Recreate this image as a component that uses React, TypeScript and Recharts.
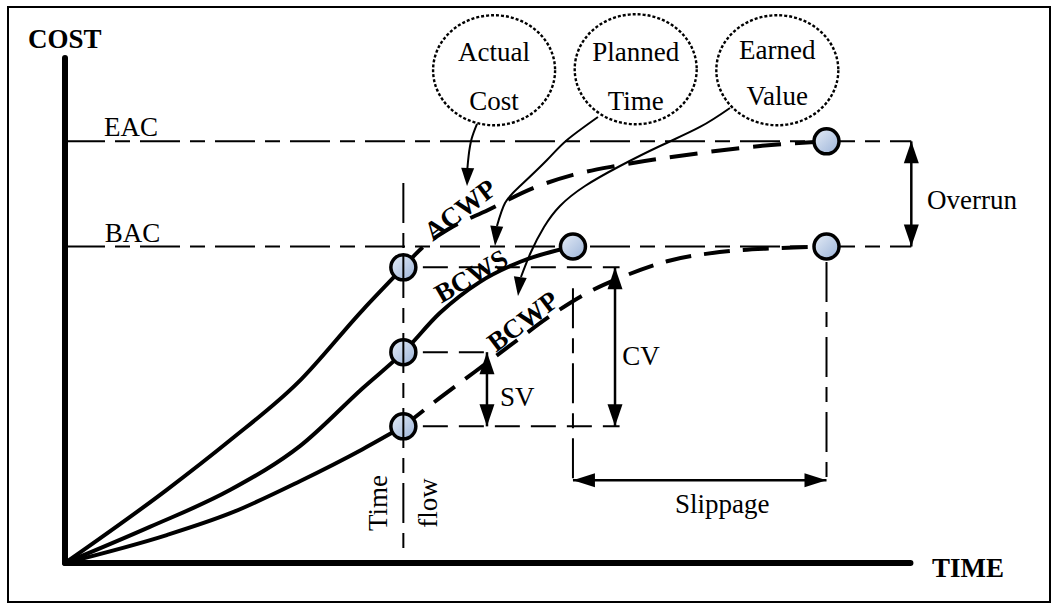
import React from 'react';
import { ComposedChart, Line, XAxis, YAxis, ReferenceLine, ReferenceDot } from 'recharts';

// ---- chart frame (data units: time 0..100 along the TIME axis, cost 0..100 along the COST axis)
const X_DOMAIN: [number, number] = [-7.665, 116.863];
const Y_DOMAIN: [number, number] = [-8.858, 110.827];

// ---- key levels / times
const EAC = 83.0;
const BAC = 62.3;
const STATUS_TIME = 39.9;
const PLANNED_FINISH = 59.9;
const FORECAST_FINISH = 89.8;
const TIME_AXIS_END = 99.7;
const COST_AXIS_END = 99.4;
const ACWP_NOW = 58.2;
const BCWS_NOW = 41.5;
const BCWP_NOW = 26.9;
const OVERRUN_T = 99.8;
const SV_T = 49.76;
const CV_T = 64.86;
const SLIP_Y = 16.3;

// ---- curves
const acwpActual = [
  { x: 0, y: 0 }, { x: 12.0, y: 14.4 }, { x: 19.5, y: 24.2 }, { x: 27.4, y: 35.4 },
  { x: 35.1, y: 49.8 }, { x: 39.9, y: 58.2 },
];
const acwpForecast = [
  { x: 39.9, y: 58.2 }, { x: 42.2, y: 62.2 }, { x: 45.2, y: 65.7 }, { x: 49.9, y: 69.5 },
  { x: 55.2, y: 73.8 }, { x: 59.9, y: 76.4 }, { x: 65.4, y: 78.3 }, { x: 74.9, y: 80.7 },
  { x: 82.0, y: 82.1 }, { x: 89.8, y: 83.0 },
];
const bcws = [
  { x: 0, y: 0 }, { x: 10.0, y: 7.1 }, { x: 19.5, y: 14.4 }, { x: 27.7, y: 23.0 },
  { x: 35.1, y: 34.4 }, { x: 39.9, y: 41.5 }, { x: 44.2, y: 49.2 }, { x: 48.9, y: 55.3 },
  { x: 53.7, y: 59.3 }, { x: 59.9, y: 62.3 },
];
const bcwpActual = [
  { x: 0, y: 0 }, { x: 12.0, y: 5.5 }, { x: 19.5, y: 9.8 }, { x: 27.7, y: 16.1 },
  { x: 35.1, y: 22.4 }, { x: 39.9, y: 26.9 },
];
const bcwpForecast = [
  { x: 39.9, y: 26.9 }, { x: 44.2, y: 32.5 }, { x: 48.3, y: 37.6 }, { x: 53.2, y: 43.7 },
  { x: 57.2, y: 48.6 }, { x: 61.4, y: 53.0 }, { x: 65.7, y: 56.3 }, { x: 71.0, y: 59.4 },
  { x: 77.2, y: 61.2 }, { x: 84.3, y: 62.0 }, { x: 89.8, y: 62.3 },
];

// ---- leader lines from the bubbles
const actualLeader = [
  { x: 48.58, y: 86.42 }, { x: 47.95, y: 83.5 }, { x: 47.6, y: 80.2 }, { x: 47.45, y: 77.6 },
];
const plannedLeader = [
  { x: 62.85, y: 87.8 }, { x: 59.2, y: 83.27 }, { x: 56.84, y: 79.33 }, { x: 53.66, y: 74.21 },
  { x: 51.89, y: 70.87 }, { x: 50.94, y: 66.34 },
];
const earnedLeader = [
  { x: 78.42, y: 89.57 }, { x: 74.88, y: 85.83 }, { x: 70.17, y: 82.09 }, { x: 65.45, y: 78.15 },
  { x: 61.32, y: 74.21 }, { x: 58.37, y: 70.28 }, { x: 56.49, y: 66.14 }, { x: 54.95, y: 61.22 },
  { x: 53.77, y: 56.3 },
];

// ---- milestones (circles); the ones on the status date are crossed by the time-flow line
const milestones = [
  { x: STATUS_TIME, y: ACWP_NOW, onStatus: true },
  { x: STATUS_TIME, y: BCWS_NOW, onStatus: true },
  { x: STATUS_TIME, y: BCWP_NOW, onStatus: true },
  { x: PLANNED_FINISH, y: BAC, onStatus: false },
  { x: FORECAST_FINISH, y: EAC, onStatus: false },
  { x: FORECAST_FINISH, y: BAC, onStatus: false },
];

// ---- bubbles
const bubbles = [
  { lines: ['Actual', 'Cost'], x: 50.6, y: 97.0, l1: 100.5, l2: 90.9 },
  { lines: ['Planned', 'Time'], x: 67.3, y: 97.2, l1: 100.5, l2: 90.9 },
  { lines: ['Earned', 'Value'], x: 84.0, y: 97.0, l1: 101.0, l2: 91.9 },
];

// ---- text labels
const labels = [
  { t: 'COST', x: -4.36, y: 103.15, anchor: 'start', bold: true, rot: 0 },
  { t: 'TIME', x: 102.24, y: -0.89, anchor: 'start', bold: true, rot: 0 },
  { t: 'EAC', x: 4.6, y: 85.9, anchor: 'start', bold: false, rot: 0 },
  { t: 'BAC', x: 4.7, y: 64.96, anchor: 'start', bold: false, rot: 0 },
  { t: 'ACWP', x: 46.6, y: 69.5, anchor: 'middle', bold: true, rot: -37 },
  { t: 'BCWS', x: 47.9, y: 56.5, anchor: 'middle', bold: true, rot: -30 },
  { t: 'BCWP', x: 54.0, y: 47.6, anchor: 'middle', bold: true, rot: -37 },
  { t: 'SV', x: 51.3, y: 32.7, anchor: 'start', bold: false, rot: 0 },
  { t: 'CV', x: 65.7, y: 40.7, anchor: 'start', bold: false, rot: 0 },
  { t: 'Slippage', x: 77.5, y: 11.6, anchor: 'middle', bold: false, rot: 0 },
  { t: 'Overrun', x: 101.65, y: 71.5, anchor: 'start', bold: false, rot: 0 },
  { t: 'Time', x: 36.9, y: 11.8, anchor: 'middle', bold: false, rot: -90 },
  { t: 'flow', x: 42.8, y: 11.8, anchor: 'middle', bold: false, rot: -90 },
];

const FONT = "'Liberation Serif', 'Times New Roman', Times, serif";

const textShape = (t: string, anchor: string, bold: boolean, rot: number) => (p: any) => (
  <text
    x={p.cx}
    y={p.cy}
    textAnchor={anchor}
    dominantBaseline="central"
    fontFamily={FONT}
    fontSize={27}
    fontWeight={bold ? 700 : 400}
    fill="#000"
    transform={rot ? `rotate(${rot} ${p.cx} ${p.cy})` : undefined}
  >
    {t}
  </text>
);

const arrowHead = (angle: number, len = 21, half = 7) => (p: any) => {
  const { cx, cy } = p;
  const a = (angle * Math.PI) / 180;
  const bx = cx - len * Math.cos(a);
  const by = cy - len * Math.sin(a);
  const nx = -Math.sin(a) * half;
  const ny = Math.cos(a) * half;
  return <polygon points={`${cx},${cy} ${bx + nx},${by + ny} ${bx - nx},${by - ny}`} fill="#000" />;
};

const milestoneShape = (crossed: boolean) => (p: any) => (
  <g>
    <defs>
      <linearGradient id="msGrad" x1="0" y1="0" x2="1" y2="1">
        <stop offset="0" stopColor="#e6edf7" />
        <stop offset="1" stopColor="#9bb3d8" />
      </linearGradient>
    </defs>
    <circle cx={p.cx} cy={p.cy} r={12.5} fill="url(#msGrad)" stroke="#000" strokeWidth={3.5} />
    {crossed && <line x1={p.cx} y1={p.cy - 12} x2={p.cx} y2={p.cy + 12} stroke="#000" strokeWidth={2} />}
  </g>
);

const ellipseShape = (p: any) => (
  <ellipse cx={p.cx} cy={p.cy} rx={61} ry={55} fill="none" stroke="#000" strokeWidth={2.4} strokeDasharray="3 2" />
);

const LONG_SHORT = '40 10 15 10';
const SHORT_DASH = '25 11';

export default function App() {
  const seg = (x1: number, y1: number, x2: number, y2: number) => [{ x: x1, y: y1 }, { x: x2, y: y2 }] as any;
  return (
    <div style={{ position: 'absolute', left: 0, top: 0, width: 1056, height: 608, background: '#fff' }}>
      <div
        style={{
          position: 'absolute', left: 7, top: 6, width: 1044, height: 597,
          border: '2px solid #000', boxSizing: 'border-box',
        }}
      />
      <div style={{ position: 'absolute', left: 0, top: 0 }}>
        <ComposedChart width={1056} height={608} margin={{ top: 0, right: 0, bottom: 0, left: 0 }}>
          <XAxis type="number" dataKey="x" domain={X_DOMAIN} allowDataOverflow hide />
          <YAxis type="number" dataKey="y" domain={Y_DOMAIN} allowDataOverflow hide />

          {/* guide lines */}
          <ReferenceLine segment={seg(0, EAC, OVERRUN_T, EAC)} stroke="#000" strokeWidth={2} strokeDasharray={LONG_SHORT} />
          <ReferenceLine segment={seg(0, BAC, OVERRUN_T, BAC)} stroke="#000" strokeWidth={2} strokeDasharray={LONG_SHORT} />
          <ReferenceLine segment={seg(42.2, ACWP_NOW, 65.4, ACWP_NOW)} stroke="#000" strokeWidth={2} strokeDasharray={SHORT_DASH} />
          <ReferenceLine segment={seg(42.2, BCWS_NOW, 50.2, BCWS_NOW)} stroke="#000" strokeWidth={2} strokeDasharray={SHORT_DASH} />
          <ReferenceLine segment={seg(42.2, BCWP_NOW, 65.4, BCWP_NOW)} stroke="#000" strokeWidth={2} strokeDasharray={SHORT_DASH} />
          <ReferenceLine segment={seg(PLANNED_FINISH, 54.1, PLANNED_FINISH, SLIP_Y)} stroke="#000" strokeWidth={2} strokeDasharray={LONG_SHORT} />
          <ReferenceLine segment={seg(FORECAST_FINISH, 59.25, FORECAST_FINISH, SLIP_Y)} stroke="#000" strokeWidth={2} strokeDasharray={LONG_SHORT} />
          <ReferenceLine segment={seg(STATUS_TIME, 74.8, STATUS_TIME, 1.0)} stroke="#000" strokeWidth={2} strokeDasharray={LONG_SHORT} />

          {/* dimension arrows (shafts) */}
          <ReferenceLine segment={seg(SV_T, BCWS_NOW, SV_T, BCWP_NOW)} stroke="#000" strokeWidth={2.5} />
          <ReferenceLine segment={seg(CV_T, ACWP_NOW, CV_T, BCWP_NOW)} stroke="#000" strokeWidth={2.5} />
          <ReferenceLine segment={seg(OVERRUN_T, EAC, OVERRUN_T, BAC)} stroke="#000" strokeWidth={2.5} />
          <ReferenceLine segment={seg(PLANNED_FINISH, SLIP_Y, FORECAST_FINISH, SLIP_Y)} stroke="#000" strokeWidth={2.5} />

          {/* axes */}
          <ReferenceLine segment={seg(0, 0, 0, COST_AXIS_END)} stroke="#000" strokeWidth={6} strokeLinecap="round" />
          <ReferenceLine segment={seg(0, 0, TIME_AXIS_END, 0)} stroke="#000" strokeWidth={6} strokeLinecap="round" />

          {/* curves */}
          <Line data={acwpActual} dataKey="y" type="monotone" stroke="#000" strokeWidth={4} dot={false} activeDot={false} isAnimationActive={false} />
          <Line data={acwpForecast} dataKey="y" type="monotone" stroke="#000" strokeWidth={4} strokeDasharray="28 14" dot={false} activeDot={false} isAnimationActive={false} />
          <Line data={bcws} dataKey="y" type="monotone" stroke="#000" strokeWidth={4} dot={false} activeDot={false} isAnimationActive={false} />
          <Line data={bcwpActual} dataKey="y" type="monotone" stroke="#000" strokeWidth={4} dot={false} activeDot={false} isAnimationActive={false} />
          <Line data={bcwpForecast} dataKey="y" type="monotone" stroke="#000" strokeWidth={4} strokeDasharray="26 13" dot={false} activeDot={false} isAnimationActive={false} />

          {/* leaders */}
          <Line data={actualLeader} dataKey="y" type="natural" stroke="#000" strokeWidth={2} dot={false} activeDot={false} isAnimationActive={false} />
          <Line data={plannedLeader} dataKey="y" type="natural" stroke="#000" strokeWidth={2} dot={false} activeDot={false} isAnimationActive={false} />
          <Line data={earnedLeader} dataKey="y" type="natural" stroke="#000" strokeWidth={2} dot={false} activeDot={false} isAnimationActive={false} />

          {/* milestones */}
          {milestones.map((m, i) => (
            <ReferenceDot key={`m${i}`} x={m.x} y={m.y} r={12.5} shape={milestoneShape(m.onStatus)} />
          ))}

          {/* arrow heads */}
          <ReferenceDot x={SV_T} y={BCWS_NOW} r={1} shape={arrowHead(-90, 22, 7.5)} />
          <ReferenceDot x={SV_T} y={BCWP_NOW} r={1} shape={arrowHead(90, 22, 7.5)} />
          <ReferenceDot x={CV_T} y={ACWP_NOW} r={1} shape={arrowHead(-90, 22, 7.5)} />
          <ReferenceDot x={CV_T} y={BCWP_NOW} r={1} shape={arrowHead(90, 22, 7.5)} />
          <ReferenceDot x={OVERRUN_T} y={EAC} r={1} shape={arrowHead(-90, 22, 7.5)} />
          <ReferenceDot x={OVERRUN_T} y={BAC} r={1} shape={arrowHead(90, 22, 7.5)} />
          <ReferenceDot x={PLANNED_FINISH} y={SLIP_Y} r={1} shape={arrowHead(180, 22, 7)} />
          <ReferenceDot x={FORECAST_FINISH} y={SLIP_Y} r={1} shape={arrowHead(0, 22, 7)} />
          <ReferenceDot x={47.41} y={74.21} r={1} shape={arrowHead(92, 18, 6.5)} />
          <ReferenceDot x={50.71} y={62.4} r={1} shape={arrowHead(95, 20, 6.5)} />
          <ReferenceDot x={53.42} y={52.56} r={1} shape={arrowHead(97, 19, 6.5)} />

          {/* bubbles */}
          {bubbles.map((b, i) => (
            <ReferenceDot key={`e${i}`} x={b.x} y={b.y} r={1} shape={ellipseShape} />
          ))}
          {bubbles.map((b, i) => (
            <ReferenceDot key={`b1${i}`} x={b.x} y={b.l1} r={1} shape={textShape(b.lines[0], 'middle', false, 0)} />
          ))}
          {bubbles.map((b, i) => (
            <ReferenceDot key={`b2${i}`} x={b.x} y={b.l2} r={1} shape={textShape(b.lines[1], 'middle', false, 0)} />
          ))}

          {/* labels */}
          {labels.map((l, i) => (
            <ReferenceDot key={`l${i}`} x={l.x} y={l.y} r={1} shape={textShape(l.t, l.anchor, l.bold, l.rot)} />
          ))}
        </ComposedChart>
      </div>
    </div>
  );
}
